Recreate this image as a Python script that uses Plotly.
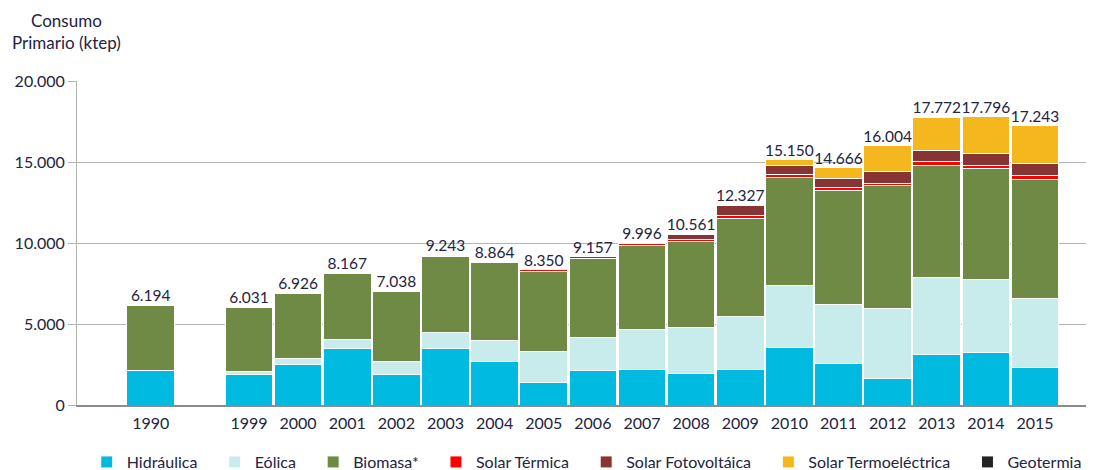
import plotly.graph_objects as go

years = ["1990", "1999", "2000", "2001", "2002", "2003", "2004", "2005", "2006",
         "2007", "2008", "2009", "2010", "2011", "2012", "2013", "2014", "2015"]
category_order = ["1990", " ", "1999", "2000", "2001", "2002", "2003", "2004", "2005",
                  "2006", "2007", "2008", "2009", "2010", "2011", "2012", "2013", "2014", "2015"]

hidraulica = [2117, 1895, 2470, 3480, 1895, 3480, 2655, 1420, 2120,
              2200, 1955, 2200, 3560, 2570, 1650, 3090, 3250, 2330]
eolica = [0, 204, 412, 575, 780, 1005, 1340, 1870, 2055,
          2430, 2840, 3294, 3800, 3645, 4300, 4790, 4510, 4230]
biomasa = [4052, 3892, 3999, 4062, 4307, 4695, 4796, 4975, 4874,
           5193, 5295, 6030, 6690, 7010, 7570, 6935, 6850, 7370]
solar_termica = [22, 31, 35, 40, 45, 52, 60, 70, 90,
                 120, 130, 170, 180, 190, 170, 200, 205, 265]
solar_fotovoltaica = [0, 1, 2, 2, 3, 3, 5, 7, 10,
                      45, 330, 620, 580, 580, 715, 720, 720, 720]
solar_termoelectrica = [0, 0, 0, 0, 0, 0, 0, 0, 0,
                        0, 0, 0, 330, 660, 1585, 2020, 2245, 2310]
geotermia = [3, 8, 8, 8, 8, 8, 8, 8, 8,
             8, 11, 13, 10, 11, 14, 17, 16, 18]

totals = [6194, 6031, 6926, 8167, 7038, 9243, 8864, 8350, 9157,
          9996, 10561, 12327, 15150, 14666, 16004, 17772, 17796, 17243]
total_labels = ["6.194", "6.031", "6.926", "8.167", "7.038", "9.243", "8.864", "8.350", "9.157",
                "9.996", "10.561", "12.327", "15.150", "14.666", "16.004", "17.772", "17.796", "17.243"]

y_tickvals = [0, 5000, 10000, 15000, 20000]
y_ticktext = ["0", "5.000", "10.000", "15.000", "20.000"]

series = [
    ("Hidráulica", hidraulica, "#00BAE0"),
    ("Eólica", eolica, "#C8EBEB"),
    ("Biomasa*", biomasa, "#6E8A44"),
    ("Solar Térmica", solar_termica, "#FF0000"),
    ("Solar Fotovoltáica", solar_fotovoltaica, "#873434"),
    ("Solar Termoeléctrica", solar_termoelectrica, "#F4B81E"),
    ("Geotermia", geotermia, "#222222"),
]

FONT = "Lato"
TXT = "#232342"
PAD = "\u00a0\u00a0\u00a0"

fig = go.Figure()
for name, vals, color in series:
    fig.add_trace(go.Bar(
        x=years, y=vals, name=name + PAD,
        marker=dict(color=color, line=dict(color="white", width=1)),
        width=0.97,
    ))

fig.add_trace(go.Scatter(
    x=years, y=totals, text=total_labels, mode="text",
    textposition="top center", showlegend=False, hoverinfo="skip",
    textfont=dict(family=FONT, size=15.5, color=TXT),
))

fig.add_annotation(
    xref="paper", yref="paper", x=-0.0108, y=1.152,
    text="Consumo<br>Primario (ktep)", showarrow=False, align="center",
    xanchor="center", yanchor="middle",
    font=dict(family=FONT, size=17, color=TXT),
)

fig.update_layout(
    width=1086, height=462,
    barmode="stack",
    plot_bgcolor="white", paper_bgcolor="white",
    margin=dict(l=69, r=0, t=73, b=65, autoexpand=False),
    font=dict(family=FONT, size=16, color=TXT),
    legend=dict(
        orientation="h", xref="container", x=0.0725, y=-0.176,
        xanchor="left", yanchor="middle",
        font=dict(family=FONT, size=16, color=TXT), traceorder="normal",
    ),
    xaxis=dict(
        type="category", categoryorder="array", categoryarray=category_order,
        range=[-1.5, 19.2], showgrid=False, showline=True, linecolor="#8c8c8c",
        linewidth=2, ticks="", ticklabelstandoff=3,
        tickfont=dict(family=FONT, size=16, color=TXT),
    ),
    yaxis=dict(
        range=[0, 20000], tickvals=y_tickvals, ticktext=y_ticktext,
        showgrid=True, gridcolor="#b4b4b4", gridwidth=1, zeroline=False,
        showline=True, linecolor="#b4b4b4", linewidth=1,
        ticks="outside", ticklen=8, tickcolor="#b4b4b4",
        tickfont=dict(family=FONT, size=16, color=TXT),
    ),
    bargap=0.03,
)

fig.write_html("out.html")
